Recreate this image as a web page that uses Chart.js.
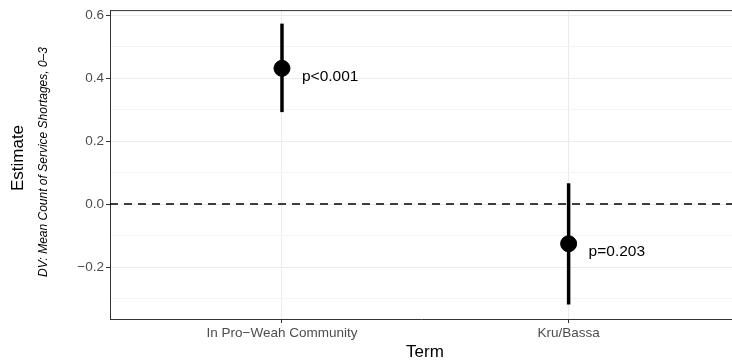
<!DOCTYPE html>
<html>
<head>
<meta charset="utf-8">
<script src="https://cdn.jsdelivr.net/npm/chart.js@4/dist/chart.umd.min.js"></script>
<style>
  html, body { margin: 0; padding: 0; background: #fff; }
  #wrap { width: 732px; height: 364px; }
</style>
</head>
<body>
<div id="wrap"><canvas id="chart" width="732" height="364"></canvas></div>
<script>
// Data
const terms = ["In Pro\u2212Weah Community", "Kru/Bassa"];
const estimates = [0.431, -0.126];
const ciLow = [0.292, -0.319];
const ciHigh = [0.573, 0.066];
const pLabels = ["p<0.001", "p=0.203"];

const yTicks = [-0.3, -0.2, -0.1, 0.0, 0.1, 0.2, 0.3, 0.4, 0.5, 0.6];
const yLabelled = [-0.2, 0.0, 0.2, 0.4, 0.6];
const xTicks = [1, 2];

const yMin = -0.365, yMax = 0.616;
const xMin = 0.4, xMax = 2.57;

const FONT = "'Liberation Sans', Arial, Helvetica, sans-serif";

function isMajor(v) {
  return yLabelled.some(t => Math.abs(t - v) < 1e-6);
}

// Error bars, one line dataset per term
const ciSets = terms.map((t, i) => ({
  type: "line",
  data: [{ x: i + 1, y: ciLow[i] }, { x: i + 1, y: ciHigh[i] }],
  borderColor: "#000",
  borderWidth: 3.5,
  borderCapStyle: "butt",
  pointRadius: 0,
  order: 1
}));

// Axis titles, p-value labels and top border
const extras = {
  id: "extras",
  afterDatasetsDraw(chart) {
    const { ctx, chartArea, scales } = chart;
    ctx.save();

    // top panel border
    ctx.strokeStyle = "#333";
    ctx.lineWidth = 1;
    ctx.beginPath();
    ctx.moveTo(chartArea.left, chartArea.top + 0.5);
    ctx.lineTo(chartArea.right, chartArea.top + 0.5);
    ctx.stroke();

    // p labels
    ctx.fillStyle = "#000";
    ctx.font = "15.5px " + FONT;
    ctx.textAlign = "left";
    ctx.textBaseline = "middle";
    pLabels.forEach((p, i) => {
      const x = scales.x.getPixelForValue(i + 1);
      const y = scales.y.getPixelForValue(estimates[i]);
      ctx.fillText(p, x + 20, y + 8);
    });

    // x title
    ctx.font = "17px " + FONT;
    ctx.textAlign = "center";
    ctx.fillText("Term", 425, 352);

    // y titles
    ctx.translate(18, 158);
    ctx.rotate(-Math.PI / 2);
    ctx.fillText("Estimate", 0, 0);
    ctx.rotate(Math.PI / 2);
    ctx.translate(-18, -158);

    ctx.translate(44, 162);
    ctx.rotate(-Math.PI / 2);
    ctx.font = "italic 12px " + FONT;
    ctx.fillText("DV: Mean Count of Service Shortages, 0\u20133", 0, 0);
    ctx.restore();
  }
};

new Chart(document.getElementById("chart"), {
  type: "scatter",
  data: {
    datasets: [
      {
        type: "scatter",
        data: terms.map((t, i) => ({ x: i + 1, y: estimates[i] })),
        backgroundColor: "#000",
        borderColor: "#000",
        pointRadius: 8,
        pointHoverRadius: 8,
        order: 0
      },
      ...ciSets,
      {
        type: "line",
        data: [{ x: xMin, y: 0 }, { x: xMax, y: 0 }],
        borderColor: "#000",
        borderWidth: 1.5,
        borderDash: [8, 6],
        pointRadius: 0,
        order: 2
      }
    ]
  },
  options: {
    responsive: false,
    animation: false,
    events: [],
    layout: { autoPadding: false, padding: { top: 7, right: 0, left: 0, bottom: 0 } },
    plugins: {
      legend: { display: false },
      tooltip: { enabled: false }
    },
    scales: {
      x: {
        type: "linear",
        min: xMin,
        max: xMax,
        afterBuildTicks: s => { s.ticks = xTicks.map(v => ({ value: v })); },
        afterFit: s => { s.height = 45; },
        border: { display: true, color: "#333", width: 1 },
        grid: {
          color: "#ebebeb",
          lineWidth: 1,
          tickLength: 4,
          tickColor: "#333"
        },
        ticks: {
          color: "#4d4d4d",
          font: { family: FONT, size: 13.5 },
          padding: 2,
          maxRotation: 0,
          callback: v => terms[Math.round(v) - 1]
        }
      },
      y: {
        type: "linear",
        min: yMin,
        max: yMax,
        afterBuildTicks: s => { s.ticks = yTicks.map(v => ({ value: v })); },
        afterFit: s => { s.width = 110; },
        border: { display: true, color: "#333", width: 1 },
        grid: {
          color: c => isMajor(c.tick.value) ? "#ebebeb" : "#f3f3f3",
          lineWidth: 1,
          tickLength: 4,
          tickColor: c => isMajor(c.tick.value) ? "#333" : "rgba(0,0,0,0)"
        },
        ticks: {
          color: "#4d4d4d",
          font: { family: FONT, size: 13.5 },
          padding: 2,
          autoSkip: false,
          callback: v => isMajor(v) ? v.toFixed(1).replace("-", "\u2212") : ""
        }
      }
    }
  },
  plugins: [extras]
});
</script>
</body>
</html>
